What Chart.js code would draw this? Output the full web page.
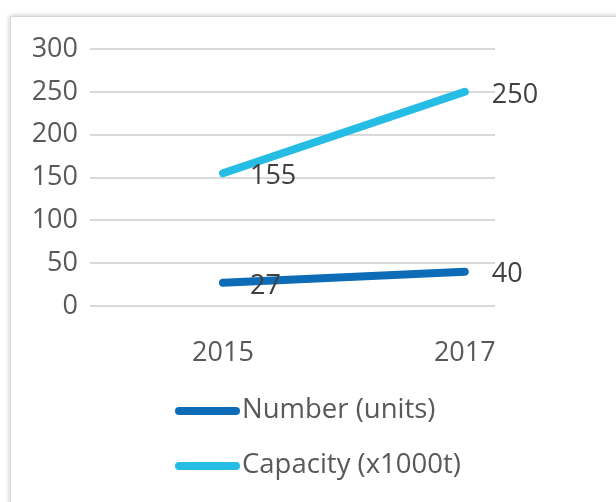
<!DOCTYPE html>
<html>
<head>
<meta charset="utf-8">
<script src="https://cdn.jsdelivr.net/npm/chart.js@4/dist/chart.umd.min.js"></script>
<style>
  body { margin: 0; background: #fff; overflow: hidden; }
  .frame {
    position: absolute; left: 10px; top: 16px; width: 700px; height: 600px;
    border: 1px solid #d9d9d9; box-shadow: 0 0 5px rgba(0,0,0,0.25); background: #fff;
  }
  .wrap { position: absolute; left: 0; top: 0; width: 616px; height: 502px; }
</style>
</head>
<body>
<div class="frame"></div>
<div class="wrap"><canvas id="lineChart"></canvas></div>
<script>
// Chart data
const years = [2015, 2017];
const numberUnits = [27, 40];
const capacity = [155, 250];
const yTicks = [0, 50, 100, 150, 200, 250, 300];
const seriesNames = ['Number (units)', 'Capacity (x1000t)'];
const seriesColors = ['#0d6cb5', '#25bde4'];

const textColor = '#595959';
const fontFamily = '"Open Sans", "DejaVu Sans", sans-serif';

// Value labels to the right of each point
const valueLabels = {
    id: 'valueLabels',
    afterDatasetsDraw(chart) {
        const ctx = chart.ctx;
        ctx.save();
        ctx.font = '27px ' + fontFamily;
        ctx.fillStyle = '#404040';
        ctx.textAlign = 'left';
        ctx.textBaseline = 'middle';
        chart.data.datasets.forEach((ds, i) => {
            chart.getDatasetMeta(i).data.forEach((pt, j) => {
                ctx.fillText(String(ds.data[j].y), pt.x + 27, pt.y + 3);
            });
        });
        ctx.restore();
    }
};

// Vertical legend below the plot
const lineLegend = {
    id: 'lineLegend',
    afterDraw(chart) {
        const ctx = chart.ctx;
        ctx.save();
        ctx.font = '27.5px ' + fontFamily;
        ctx.textBaseline = 'middle';
        chart.data.datasets.forEach((ds, i) => {
            const y = 411 + i * 55;
            ctx.strokeStyle = ds.borderColor;
            ctx.lineWidth = 8;
            ctx.lineCap = 'round';
            ctx.beginPath();
            ctx.moveTo(179, y);
            ctx.lineTo(236, y);
            ctx.stroke();
            ctx.fillStyle = textColor;
            ctx.fillText(ds.label, 242, y - 1);
        });
        ctx.restore();
    }
};

const ctx = document.getElementById('lineChart').getContext('2d');
const lineChart = new Chart(ctx, {
    type: 'line',
    data: {
        datasets: [numberUnits, capacity].map((vals, i) => ({
            label: seriesNames[i],
            data: years.map((yr, j) => ({ x: yr, y: vals[j] })),
            borderColor: seriesColors[i],
            backgroundColor: seriesColors[i],
            borderWidth: 8,
            borderCapStyle: 'round',
            pointRadius: 0,
            tension: 0
        }))
    },
    options: {
        responsive: true,
        maintainAspectRatio: false,
        animation: false,
        layout: { padding: { left: 30, right: 121, top: 49, bottom: 136 } },
        plugins: {
            legend: { display: false },
            tooltip: { enabled: false }
        },
        scales: {
            x: {
                type: 'linear',
                min: 2013.9,
                max: 2017.25,
                afterBuildTicks: scale => { scale.ticks = years.map(v => ({ value: v })); },
                afterFit: scale => { scale.height = 60; },
                grid: { display: false },
                border: { display: false },
                ticks: {
                    color: textColor,
                    font: { family: fontFamily, size: 27 },
                    padding: 23,
                    callback: v => String(v)
                }
            },
            y: {
                min: 0,
                max: 300,
                afterBuildTicks: scale => { scale.ticks = yTicks.map(v => ({ value: v })); },
                afterFit: scale => { scale.width = 60; },
                grid: { color: '#d9d9d9', lineWidth: 2, drawTicks: false },
                border: { display: false },
                ticks: {
                    color: textColor,
                    font: { family: fontFamily, size: 27 },
                    padding: 12
                }
            }
        }
    },
    plugins: [valueLabels, lineLegend]
});
</script>
</body>
</html>
